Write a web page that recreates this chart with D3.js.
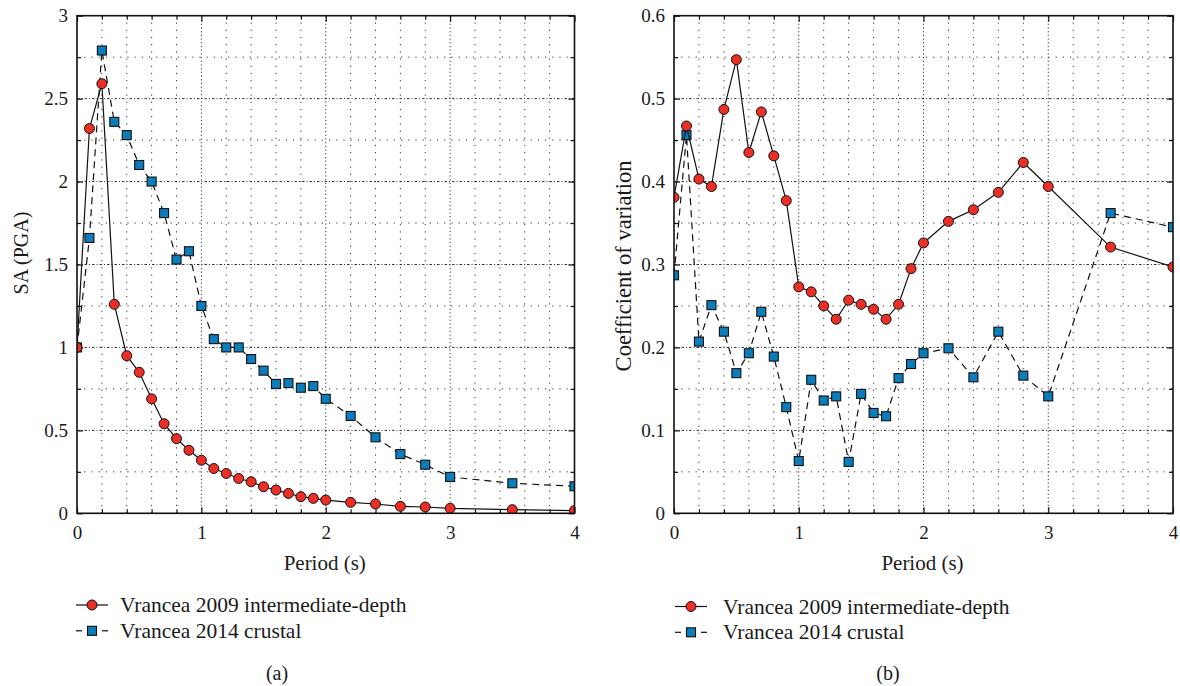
<!DOCTYPE html>
<html><head><meta charset="utf-8">
<script src="https://cdn.jsdelivr.net/npm/d3@7"></script>
<style>
body{margin:0;background:#fff}
svg text{font-family:"Liberation Serif","Times New Roman",Times,serif !important;fill:#1a1a1a}
</style>
</head><body><svg id="c" width="1180" height="686"></svg>
<script>
// ---------------- DATA ----------------
const periods = [0,0.1,0.2,0.3,0.4,0.5,0.6,0.7,0.8,0.9,1.0,1.1,1.2,1.3,1.4,1.5,1.6,1.7,1.8,1.9,2.0,2.2,2.4,2.6,2.8,3.0,3.5,4.0];
const saIntermediate = [1.0,2.32,2.59,1.26,0.95,0.85,0.69,0.54,0.45,0.38,0.32,0.27,0.24,0.21,0.19,0.16,0.14,0.12,0.10,0.09,0.08,0.066,0.056,0.042,0.038,0.030,0.022,0.016];
const saCrustal = [1.0,1.66,2.79,2.36,2.28,2.10,2.00,1.81,1.53,1.58,1.25,1.05,1.00,1.00,0.93,0.86,0.78,0.785,0.757,0.767,0.69,0.587,0.458,0.357,0.293,0.219,0.181,0.163];
const covIntermediate = [0.381,0.467,0.403,0.394,0.487,0.547,0.435,0.484,0.431,0.377,0.273,0.267,0.250,0.234,0.257,0.252,0.246,0.234,0.252,0.295,0.326,0.352,0.366,0.387,0.423,0.394,0.321,0.297];
const covCrustal = [0.287,0.456,0.207,0.251,0.219,0.169,0.193,0.243,0.189,0.128,0.063,0.161,0.136,0.141,0.062,0.144,0.121,0.117,0.163,0.180,0.193,0.199,0.164,0.219,0.166,0.141,0.362,0.345];
const periodTicks = [0,1,2,3,4];
const saTicks = [0,0.5,1,1.5,2,2.5,3];
const covTicks = [0,0.1,0.2,0.3,0.4,0.5,0.6];
const seriesNames = ["Vrancea 2009 intermediate-depth","Vrancea 2014 crustal"];
const panelLabels = ["(a)","(b)"];
const xTitle = "Period (s)";
const yTitles = ["SA (PGA)","Coefficient of variation"];

// ---------------- STYLE ----------------
const RED = "#ec2f26", BLUE = "#0b7dbd";
const FONT = "'Liberation Serif','Times New Roman',Times,serif";
const svg = d3.select("#c");
svg.append("rect").attr("width",1180).attr("height",686).attr("fill","#fff");

const panels = [
  {id:"a", xr:[77,574.5], yr:[513.3,15.7], ydom:[0,3], yTicks:saTicks, yMinor:0.25,
   s1:saIntermediate, s2:saCrustal, ytitle:yTitles[0], ytx:28, yty:253, ytSize:20,
   legX:76, legY:605, legTextX:120, lab:panelLabels[0], labX:277},
  {id:"b", xr:[674,1173], yr:[513.3,15.7], ydom:[0,0.6], yTicks:covTicks, yMinor:0.05,
   s1:covIntermediate, s2:covCrustal, ytitle:yTitles[1], ytx:631, yty:266, ytSize:22.5,
   legX:675, legY:606.5, legTextX:723, lab:panelLabels[1], labX:888}
];

function range(a,b,step){const r=[];for(let i=0;a+i*step<=b+1e-9;i++)r.push(+(a+i*step).toFixed(6));return r;}

panels.forEach(p=>{
  const x = d3.scaleLinear().domain([0,4]).range(p.xr);
  const y = d3.scaleLinear().domain(p.ydom).range(p.yr);
  const g = svg.append("g");
  const clipId = "clip-"+p.id;
  svg.append("clipPath").attr("id",clipId).append("rect")
    .attr("x",p.xr[0]).attr("y",p.yr[1]).attr("width",p.xr[1]-p.xr[0]).attr("height",p.yr[0]-p.yr[1]);

  const xMinor = range(0,4,0.2).filter(v=>Math.abs(v-Math.round(v))>1e-6);
  const yMinorV = range(p.ydom[0],p.ydom[1],p.yMinor).filter(v=>!p.yTicks.some(t=>Math.abs(t-v)<1e-6));

  // minor grid
  const grid = g.append("g");
  grid.selectAll(".gxm").data(xMinor).join("line")
    .attr("x1",d=>x(d)).attr("x2",d=>x(d)).attr("y1",p.yr[0]).attr("y2",p.yr[1])
    .attr("stroke","#333").attr("stroke-width",1).attr("stroke-dasharray","1.2,6");
  grid.selectAll(".gym").data(yMinorV).join("line")
    .attr("y1",d=>y(d)).attr("y2",d=>y(d)).attr("x1",p.xr[0]).attr("x2",p.xr[1])
    .attr("stroke","#333").attr("stroke-width",1).attr("stroke-dasharray","1.2,6");
  // major grid
  grid.selectAll(".gxM").data(periodTicks.slice(1,-1)).join("line")
    .attr("x1",d=>x(d)).attr("x2",d=>x(d)).attr("y1",p.yr[0]).attr("y2",p.yr[1])
    .attr("stroke","#333").attr("stroke-width",1).attr("stroke-dasharray","1.2,2.5");
  grid.selectAll(".gyM").data(p.yTicks.slice(1,-1)).join("line")
    .attr("y1",d=>y(d)).attr("y2",d=>y(d)).attr("x1",p.xr[0]).attr("x2",p.xr[1])
    .attr("stroke","#333").attr("stroke-width",1).attr("stroke-dasharray","2.5,2,1,2");

  const axStyle = sel=>{sel.attr("font-family",FONT).attr("font-size",19);
    sel.select(".domain").remove();sel.selectAll("line").attr("stroke","#111").attr("stroke-width",1.2);
    sel.selectAll("text").attr("fill","#1a1a1a");};
  g.append("g").attr("transform",`translate(0,${p.yr[0]})`)
    .call(d3.axisBottom(x).tickValues(periodTicks).tickFormat(d3.format("d")).tickSizeInner(-6).tickSizeOuter(0).tickPadding(12)).call(axStyle);
  g.append("g").attr("transform",`translate(0,${p.yr[0]})`)
    .call(d3.axisBottom(x).tickValues(xMinor).tickFormat("").tickSizeInner(-4).tickSizeOuter(0)).call(axStyle);
  g.append("g").attr("transform",`translate(0,${p.yr[1]})`)
    .call(d3.axisTop(x).tickValues(periodTicks).tickFormat("").tickSizeInner(-6).tickSizeOuter(0)).call(axStyle);
  g.append("g").attr("transform",`translate(0,${p.yr[1]})`)
    .call(d3.axisTop(x).tickValues(xMinor).tickFormat("").tickSizeInner(-4).tickSizeOuter(0)).call(axStyle);
  g.append("g").attr("transform",`translate(${p.xr[0]},0)`)
    .call(d3.axisLeft(y).tickValues(p.yTicks).tickFormat(d3.format("~g")).tickSizeInner(-6).tickSizeOuter(0).tickPadding(9)).call(axStyle);
  g.append("g").attr("transform",`translate(${p.xr[0]},0)`)
    .call(d3.axisLeft(y).tickValues(yMinorV).tickFormat("").tickSizeInner(-4).tickSizeOuter(0)).call(axStyle);
  g.append("g").attr("transform",`translate(${p.xr[1]},0)`)
    .call(d3.axisRight(y).tickValues(p.yTicks).tickFormat("").tickSizeInner(-6).tickSizeOuter(0)).call(axStyle);
  g.append("g").attr("transform",`translate(${p.xr[1]},0)`)
    .call(d3.axisRight(y).tickValues(yMinorV).tickFormat("").tickSizeInner(-4).tickSizeOuter(0)).call(axStyle);

  // series
  const data1 = periods.map((t,i)=>[t,p.s1[i]]);
  const data2 = periods.map((t,i)=>[t,p.s2[i]]);
  const line = d3.line().x(d=>x(d[0])).y(d=>y(d[1]));
  const plot = g.append("g").attr("clip-path",`url(#${clipId})`);
  plot.append("path").datum(data2).attr("d",line).attr("fill","none")
    .attr("stroke","#111").attr("stroke-width",1.2).attr("stroke-dasharray","7,5");
  plot.selectAll(".sq").data(data2).join("rect")
    .attr("x",d=>x(d[0])-4.5).attr("y",d=>y(d[1])-4.5).attr("width",9).attr("height",9)
    .attr("fill",BLUE).attr("stroke","#111").attr("stroke-width",1.1);
  plot.append("path").datum(data1).attr("d",line).attr("fill","none")
    .attr("stroke","#111").attr("stroke-width",1.2);
  plot.selectAll(".ci").data(data1).join("circle")
    .attr("cx",d=>x(d[0])).attr("cy",d=>y(d[1])).attr("r",5)
    .attr("fill",RED).attr("stroke","#111").attr("stroke-width",1);

  // frame
  g.append("rect").attr("x",p.xr[0]).attr("y",p.yr[1]).attr("width",p.xr[1]-p.xr[0]).attr("height",p.yr[0]-p.yr[1])
    .attr("fill","none").attr("stroke","#111").attr("stroke-width",1.6);

  // titles
  g.append("text").attr("x",(p.xr[0]+p.xr[1])/2-1).attr("y",570).attr("text-anchor","middle")
    .attr("font-family",FONT).attr("font-size",21).text(xTitle);
  g.append("text").attr("transform",`translate(${p.ytx},${p.yty}) rotate(-90)`)
    .attr("text-anchor","middle").attr("font-family",FONT).attr("font-size",p.ytSize).text(p.ytitle);

  // legend
  const leg = g.append("g").attr("transform",`translate(${p.legX},${p.legY})`);
  const rowH = 25.8;
  seriesNames.forEach((name,i)=>{
    const r = leg.append("g").attr("transform",`translate(0,${i*rowH})`);
    if(i===0){
      r.append("line").attr("x1",0).attr("x2",32).attr("stroke","#111").attr("stroke-width",1.2);
      r.append("circle").attr("cx",16).attr("r",5).attr("fill",RED).attr("stroke","#111");
    } else {
      r.append("line").attr("x1",0).attr("x2",6).attr("stroke","#111").attr("stroke-width",1.2);
      r.append("line").attr("x1",26).attr("x2",32).attr("stroke","#111").attr("stroke-width",1.2);
      r.append("rect").attr("x",11.5).attr("y",-4.5).attr("width",9).attr("height",9).attr("fill",BLUE).attr("stroke","#111").attr("stroke-width",1.1);
    }
    r.append("text").attr("x",p.legTextX-p.legX).attr("dy","0.33em").attr("font-family",FONT).attr("font-size",21.5).text(name);
  });
  g.append("text").attr("x",p.labX).attr("y",673).attr("dy","0.33em").attr("text-anchor","middle")
    .attr("font-family",FONT).attr("font-size",20).text(p.lab);
});
</script>
</body></html>
